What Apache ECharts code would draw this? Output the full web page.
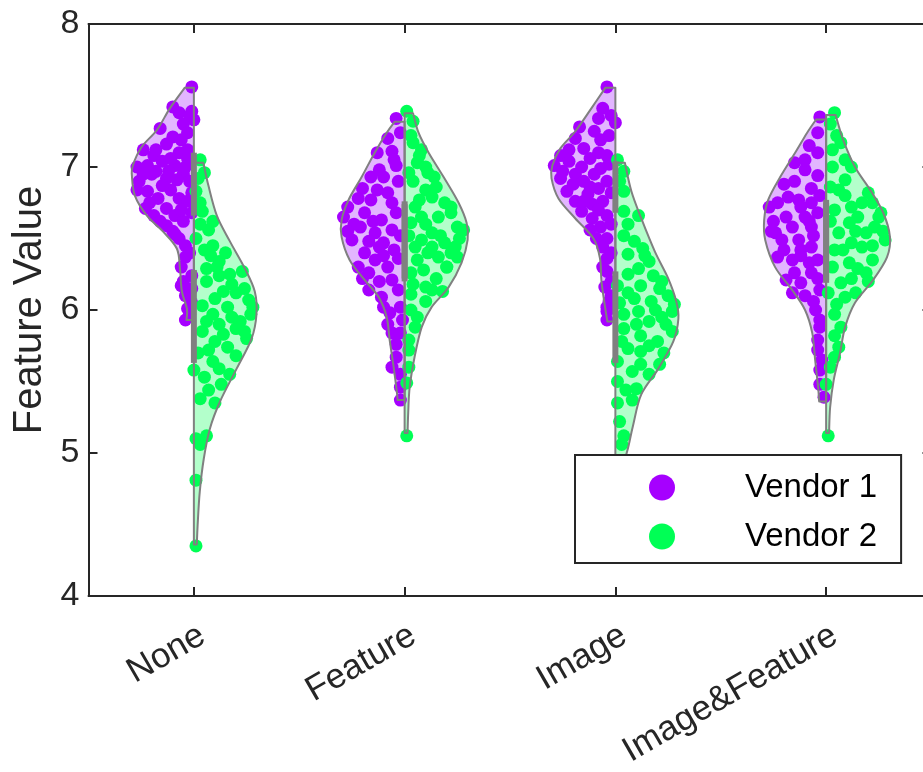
<!DOCTYPE html>
<html>
<head>
<meta charset="utf-8">
<script src="https://cdn.jsdelivr.net/npm/echarts@6/dist/echarts.min.js"></script>
<style>
  html, body { margin: 0; padding: 0; background: #fff; }
  #chart { width: 923px; height: 772px; }
</style>
</head>
<body>
<div id="chart"></div>
<script>
// categories on the x axis
const categories = ['None', 'Feature', 'Image', 'Image&Feature'];
const seriesNames = ['Vendor 1', 'Vendor 2'];

// violin edges: [value, half width in category units], top cap first, bottom cap last
const noneV1Edge = [[7.555,0.043],[7.41,0.114],[7.26,0.175],[7.14,0.248],[7.01,0.29],[6.94,0.294],[6.80,0.28],[6.66,0.223],[6.55,0.147],[6.43,0.081],[6.29,0.066],[6.13,0.057],[6.01,0.033],[5.93,0.035]];
const noneV2Edge = [[7.03,0.045],[6.87,0.069],[6.66,0.109],[6.48,0.171],[6.29,0.242],[6.13,0.289],[5.97,0.297],[5.80,0.274],[5.59,0.203],[5.36,0.124],[5.17,0.076],[4.96,0.047],[4.73,0.028],[4.50,0.018],[4.36,0.014]];
const featureV1Edge = [[7.317,0.047],[7.24,0.085],[7.10,0.142],[6.93,0.204],[6.77,0.266],[6.63,0.299],[6.51,0.299],[6.35,0.261],[6.21,0.19],[6.09,0.123],[5.95,0.085],[5.79,0.071],[5.60,0.052],[5.44,0.038],[5.37,0.033]];
const featureV2Edge = [[7.376,0.04],[7.24,0.066],[7.10,0.114],[6.93,0.185],[6.75,0.256],[6.61,0.294],[6.49,0.299],[6.33,0.27],[6.16,0.209],[6.02,0.128],[5.88,0.081],[5.67,0.047],[5.46,0.024],[5.28,0.017],[5.14,0.014]];
const imageV1Edge = [[7.555,0.047],[7.41,0.114],[7.25,0.19],[7.13,0.261],[7.01,0.299],[6.92,0.303],[6.78,0.27],[6.64,0.19],[6.50,0.104],[6.36,0.073],[6.20,0.066],[6.03,0.05],[5.92,0.038]];
const imageV2Edge = [[7.03,0.045],[6.83,0.076],[6.64,0.123],[6.41,0.187],[6.22,0.251],[6.06,0.289],[5.94,0.299],[5.78,0.275],[5.59,0.204],[5.41,0.123],[5.20,0.085],[5.06,0.064],[4.98,0.05]];
const bothV1Edge = [[7.333,0.047],[7.24,0.09],[7.10,0.147],[6.93,0.218],[6.77,0.275],[6.63,0.294],[6.49,0.289],[6.30,0.242],[6.14,0.161],[6.00,0.10],[5.84,0.066],[5.65,0.052],[5.46,0.038],[5.36,0.033]];
const bothV2Edge = [[7.364,0.045],[7.19,0.081],[7.00,0.137],[6.84,0.209],[6.68,0.271],[6.51,0.303],[6.37,0.289],[6.21,0.223],[6.05,0.137],[5.88,0.09],[5.70,0.066],[5.51,0.036],[5.32,0.019],[5.14,0.014]];

// interquartile boxes [q1, q3]
const v1Boxes = [[6.66,7.10],[6.20,6.76],[6.68,7.04],[6.19,6.77]];
const v2Boxes = [[5.63,6.28],[6.22,6.74],[5.63,6.27],[6.21,6.75]];

// jittered points: [offset from category centre, value]
const noneV1Pts = [[-0.01,7.56],[-0.1,7.42],[-0.07,7.38],[-0.01,7.39],[0.0,7.33],[-0.05,7.30],[-0.16,7.27],[-0.1,7.21],[-0.03,7.24],[-0.13,7.16],[-0.06,7.19],[-0.02,7.36],
  [-0.24,7.12],[-0.19,7.08],[-0.07,7.10],[-0.03,7.06],[-0.15,7.04],[-0.22,7.01],[-0.27,7.00],[-0.09,7.01],[-0.18,6.97],[-0.13,6.92],[-0.26,6.90],[-0.05,6.95],[-0.02,6.90],[-0.22,6.83],[-0.27,6.84],[-0.11,6.84],[-0.07,6.78],[-0.17,6.78],[-0.03,6.76],[-0.23,6.71],[-0.13,6.71],[-0.09,6.66],[-0.19,6.66],[-0.05,6.62],[-0.13,6.59],[-0.2,6.95],[-0.11,7.06],[-0.04,7.0],[-0.15,6.87],[-0.08,6.91],[-0.01,6.82],[-0.06,6.70],[-0.21,6.75],[-0.16,6.62],[-0.1,6.55],[-0.24,6.95],[-0.12,6.97],[-0.01,6.68],[-0.03,7.12],[-0.18,7.12],
  [-0.07,6.50],[-0.04,6.45],[-0.09,6.53],[-0.04,6.37],[-0.06,6.30],[-0.01,6.24],[-0.06,6.17],[-0.04,6.10],[-0.03,6.01],[-0.04,5.93],[-0.01,6.05],[-0.05,6.20],[-0.02,6.40],[-0.01,6.15],[-0.02,5.97]];
const noneV2Pts = [[0.03,7.05],[0.05,6.96],[0.01,6.83],[0.04,6.69],[0.09,6.62],[0.01,6.50],[0.05,6.42],[0.09,6.45],[0.12,6.34],[0.06,6.29],[0.15,6.40],[0.23,6.27],[0.12,6.24],[0.18,6.18],[0.14,6.13],[0.06,6.20],[0.04,6.03],[0.26,6.07],[0.09,5.97],[0.22,5.92],[0.27,5.97],[0.12,5.90],[0.14,5.83],[0.2,5.87],[0.25,5.80],[0.04,5.85],[0.07,5.72],[0.2,5.68],[0.09,5.64],[0.12,5.59],[0.17,5.55],[0.0,5.58],[0.05,5.53],[0.03,5.38],[0.1,5.35],[0.01,5.10],[0.06,5.12],[0.03,5.06],[0.01,4.81],[0.01,4.35],
  [0.02,6.92],[0.03,6.75],[0.07,6.56],[0.11,6.30],[0.2,6.12],[0.24,6.15],[0.1,6.08],[0.16,6.02],[0.28,6.02],[0.18,5.95],[0.06,5.92],[0.24,5.85],[0.1,5.78],[0.16,5.74],[0.02,5.70],[0.13,5.48],[0.07,5.44],[0.03,6.60],[0.08,6.38],[0.17,6.25]];
const featureV1Pts = [[-0.04,7.34],[-0.13,7.10],[-0.06,7.11],[-0.04,7.01],[-0.1,6.93],[-0.16,6.93],[-0.13,6.84],[-0.22,6.78],[-0.27,6.72],[-0.16,6.77],[-0.06,6.75],[-0.29,6.65],[-0.19,6.68],[-0.11,6.63],[-0.04,6.68],[-0.21,6.58],[-0.14,6.54],[-0.06,6.56],[-0.25,6.49],[-0.1,6.47],[-0.19,6.40],[-0.05,6.42],[-0.14,6.35],[-0.22,6.30],[-0.08,6.30],[-0.17,6.26],[-0.06,6.21],[-0.17,6.14],[-0.11,6.09],[-0.03,6.14],[-0.1,6.02],[-0.07,5.98],[-0.01,5.93],[-0.06,5.84],[-0.02,5.84],[-0.04,5.67],[-0.06,5.60],[-0.02,5.46],[-0.02,5.37],
  [-0.08,7.20],[-0.02,7.24],[-0.05,7.05],[-0.12,6.98],[-0.03,6.90],[-0.2,6.85],[-0.08,6.82],[-0.24,6.60],[-0.15,6.62],[-0.02,6.52],[-0.27,6.55],[-0.12,6.44],[-0.03,6.36],[-0.2,6.22],[-0.12,6.20],[-0.02,6.02],[-0.08,5.90],[-0.04,5.76],[-0.02,5.55],[-0.1,6.38],[-0.17,6.48]];
const featureV2Pts = [[0.01,7.39],[0.04,7.32],[0.04,7.17],[0.08,7.12],[0.06,7.03],[0.1,7.00],[0.14,6.93],[0.04,6.90],[0.1,6.84],[0.13,6.79],[0.07,6.77],[0.19,6.75],[0.22,6.68],[0.16,6.65],[0.08,6.65],[0.03,6.61],[0.25,6.58],[0.28,6.56],[0.13,6.54],[0.08,6.49],[0.19,6.47],[0.24,6.44],[0.05,6.44],[0.11,6.40],[0.25,6.37],[0.16,6.37],[0.06,6.35],[0.2,6.30],[0.03,6.26],[0.1,6.16],[0.13,6.14],[0.18,6.13],[0.03,6.11],[0.06,5.95],[0.02,5.79],[0.02,5.72],[0.01,5.49],[0.01,5.12],
  [0.03,7.22],[0.07,7.08],[0.11,6.96],[0.02,6.96],[0.15,6.86],[0.22,6.72],[0.05,6.72],[0.1,6.60],[0.26,6.50],[0.17,6.52],[0.02,6.52],[0.13,6.44],[0.22,6.40],[0.09,6.28],[0.15,6.22],[0.04,6.18],[0.1,6.06],[0.03,6.00],[0.05,5.88],[0.02,5.60],[0.2,6.30]];
const imageV1Pts = [[-0.04,7.56],[-0.06,7.41],[-0.02,7.36],[-0.08,7.34],[-0.17,7.28],[0.0,7.31],[-0.07,7.19],[-0.19,7.20],[-0.15,7.13],[-0.04,7.08],[-0.26,7.08],[-0.22,7.04],[-0.12,7.06],[-0.29,7.01],[-0.07,6.99],[-0.19,6.95],[-0.26,6.92],[-0.15,6.90],[-0.1,6.95],[-0.04,6.90],[-0.23,6.83],[-0.13,6.81],[-0.08,6.85],[-0.19,6.76],[-0.11,6.74],[-0.06,6.76],[-0.16,6.69],[-0.04,6.66],[-0.11,6.64],[-0.07,6.58],[-0.04,6.50],[-0.09,6.50],[-0.04,6.36],[-0.04,6.27],[-0.05,6.16],[-0.03,6.06],[-0.04,5.99],[-0.04,5.93],
  [-0.1,7.25],[-0.03,7.22],[-0.22,7.12],[-0.08,7.10],[-0.16,7.0],[-0.03,7.02],[-0.25,6.97],[-0.12,6.86],[-0.2,6.88],[-0.02,6.82],[-0.08,6.70],[-0.02,6.60],[-0.12,6.56],[-0.06,6.44],[-0.02,6.40],[-0.06,6.30],[-0.02,6.20],[-0.02,6.10],[-0.04,6.02],[-0.15,6.76]];
const imageV2Pts = [[0.01,7.05],[0.04,6.97],[0.04,6.83],[0.04,6.69],[0.11,6.66],[0.04,6.52],[0.09,6.48],[0.13,6.43],[0.06,6.39],[0.16,6.34],[0.11,6.29],[0.18,6.24],[0.01,6.17],[0.12,6.17],[0.21,6.15],[0.25,6.10],[0.09,6.08],[0.17,6.06],[0.27,5.99],[0.04,5.97],[0.11,5.99],[0.16,5.92],[0.22,5.95],[0.04,5.87],[0.12,5.82],[0.27,5.85],[0.2,5.78],[0.06,5.73],[0.12,5.71],[0.01,5.64],[0.21,5.62],[0.08,5.57],[0.16,5.55],[0.01,5.50],[0.01,5.35],[0.08,5.37],[0.04,5.12],[0.03,5.06],
  [0.02,6.90],[0.06,6.60],[0.14,6.38],[0.22,6.20],[0.06,6.25],[0.28,6.04],[0.19,6.00],[0.24,5.90],[0.1,5.90],[0.16,5.75],[0.03,5.78],[0.23,5.70],[0.12,5.62],[0.05,5.44],[0.1,5.45],[0.02,5.22],[0.06,6.12],[0.02,6.05]];
const bothV1Pts = [[-0.03,7.35],[-0.08,7.15],[-0.04,7.10],[-0.15,7.03],[-0.1,6.98],[-0.04,6.94],[-0.07,6.85],[-0.18,6.79],[-0.23,6.75],[-0.27,6.72],[-0.13,6.77],[-0.07,6.75],[-0.19,6.65],[-0.1,6.65],[-0.04,6.68],[-0.16,6.58],[-0.24,6.54],[-0.07,6.58],[-0.21,6.49],[-0.13,6.49],[-0.12,6.42],[-0.07,6.44],[-0.23,6.37],[-0.16,6.35],[-0.08,6.33],[-0.04,6.35],[-0.19,6.21],[-0.15,6.26],[-0.12,6.19],[-0.07,6.26],[-0.03,6.14],[-0.05,6.00],[-0.03,5.93],[-0.04,5.79],[-0.02,5.65],[-0.03,5.58],[-0.01,5.39],
  [-0.04,7.24],[-0.1,7.05],[-0.2,6.88],[-0.15,6.90],[-0.03,6.80],[-0.25,6.62],[-0.06,6.52],[-0.2,6.42],[-0.12,6.38],[-0.26,6.55],[-0.04,6.22],[-0.1,6.10],[-0.06,6.06],[-0.03,5.88],[-0.04,5.72],[-0.03,5.48],[-0.16,6.12],[-0.08,6.62],[-0.12,6.72]];
const bothV2Pts = [[0.04,7.38],[0.02,7.30],[0.07,7.17],[0.03,7.12],[0.09,7.05],[0.03,7.00],[0.09,6.91],[0.06,6.84],[0.17,6.75],[0.12,6.72],[0.22,6.75],[0.25,6.65],[0.15,6.65],[0.04,6.70],[0.11,6.61],[0.23,6.58],[0.06,6.54],[0.19,6.54],[0.28,6.49],[0.12,6.47],[0.17,6.44],[0.04,6.42],[0.22,6.35],[0.11,6.33],[0.15,6.29],[0.03,6.30],[0.19,6.26],[0.07,6.19],[0.01,6.12],[0.09,6.09],[0.04,5.97],[0.06,5.74],[0.04,5.67],[0.0,5.48],[0.01,5.12],
  [0.05,7.22],[0.12,7.0],[0.02,6.86],[0.2,6.82],[0.09,6.80],[0.26,6.68],[0.02,6.62],[0.14,6.55],[0.22,6.45],[0.08,6.42],[0.27,6.55],[0.12,6.22],[0.2,6.20],[0.05,6.04],[0.14,6.12],[0.07,5.88],[0.04,5.82],[0.02,5.60]];

const v1Edges = [noneV1Edge, featureV1Edge, imageV1Edge, bothV1Edge];
const v2Edges = [noneV2Edge, featureV2Edge, imageV2Edge, bothV2Edge];
const v1Pts = [noneV1Pts, featureV1Pts, imageV1Pts, bothV1Pts];
const v2Pts = [noneV2Pts, featureV2Pts, imageV2Pts, bothV2Pts];

const purple = '#A600FF', purpleFill = '#E2B5FF';
const green = '#00FF55', greenFill = '#B3FFCB';
const edgeGray = '#808080', axisColor = '#262626';
const font = 'Liberation Sans, Arial, Helvetica, sans-serif';

// smooth curve through pixel points (catmull-rom -> bezier)
function curveThrough(p) {
  let d = '';
  for (let i = 0; i < p.length - 1; i++) {
    const p0 = p[i - 1] || p[i], p1 = p[i], p2 = p[i + 1], p3 = p[i + 2] || p[i + 1];
    const c1 = [p1[0] + (p2[0] - p0[0]) / 6, p1[1] + (p2[1] - p0[1]) / 6];
    const c2 = [p2[0] - (p3[0] - p1[0]) / 6, p2[1] - (p3[1] - p1[1]) / 6];
    d += ' C' + c1[0] + ',' + c1[1] + ' ' + c2[0] + ',' + c2[1] + ' ' + p2[0] + ',' + p2[1];
  }
  return d;
}

function violinPath(api, idx, edge, side) {
  const cx = idx + 1;
  const pts = edge.map(e => api.coord([cx + side * e[1], e[0]]));
  const top = api.coord([cx, edge[0][0]]);
  const bot = api.coord([cx, edge[edge.length - 1][0]]);
  return 'M' + top[0] + ',' + top[1] + ' L' + pts[0][0] + ',' + pts[0][1] +
    curveThrough(pts) + ' L' + bot[0] + ',' + bot[1] + ' Z';
}

function violinSeries(edges, side, fill, z) {
  return {
    type: 'custom',
    xAxisIndex: 2,
    z: z,
    silent: true,
    data: categories.map((c, i) => [i]),
    renderItem: (params, api) => {
      const i = api.value(0);
      return {
        type: 'path',
        shape: { pathData: violinPath(api, i, edges[i], side) },
        style: fill
          ? { fill: fill, stroke: null }
          : { fill: null, stroke: edgeGray, lineWidth: 2, lineJoin: 'round' }
      };
    }
  };
}

function boxSeries(boxes, z) {
  return {
    type: 'custom',
    xAxisIndex: 2,
    z: z,
    silent: true,
    data: boxes.map((b, i) => [i, b[0], b[1]]),
    renderItem: (params, api) => {
      const cx = api.value(0) + 1;
      const hi = api.coord([cx, api.value(2)]);
      const lo = api.coord([cx, api.value(1)]);
      return {
        type: 'rect',
        shape: { x: hi[0] - 3, y: hi[1], width: 6, height: lo[1] - hi[1] },
        style: { fill: edgeGray }
      };
    }
  };
}

function pointSeries(name, groups, color) {
  const data = [];
  groups.forEach((g, i) => g.forEach(p => data.push([i + 1 + p[0], p[1]])));
  return {
    name: name,
    type: 'scatter',
    xAxisIndex: 2,
    z: 2,
    symbolSize: 13,
    itemStyle: { color: color, opacity: 1 },
    data: data
  };
}

const chart = echarts.init(document.getElementById('chart'));
const axisLine = { show: true, onZero: false, lineStyle: { color: axisColor, width: 2 } };
const axisTick = { show: true, inside: true, length: 9, lineStyle: { color: axisColor, width: 2 } };

chart.setOption({
  animation: false,
  backgroundColor: '#fff',
  // the right frame edge sits just past the canvas, as in the reference
  grid: { left: 88.5, top: 24, width: 843, height: 572, outerBoundsMode: 'none', containLabel: false },
  legend: {
    data: seriesNames,
    orient: 'vertical',
    left: 575,
    top: 455,
    icon: 'circle',
    itemWidth: 26,
    itemHeight: 26,
    itemGap: 16,
    padding: [16, 24, 10, 74],
    borderColor: axisColor,
    borderWidth: 2,
    backgroundColor: '#fff',
    selectedMode: false,
    z: 10,
    textStyle: { fontSize: 33, color: '#000', fontFamily: font, lineHeight: 33, padding: [0, 0, 0, 65] }
  },
  xAxis: [
    {
      type: 'category', data: categories, position: 'bottom', boundaryGap: true,
      axisLine: axisLine,
      axisTick: Object.assign({ alignWithLabel: true }, axisTick),
      axisLabel: { rotate: 30, fontSize: 35, color: axisColor, margin: 22, verticalAlign: 'top', fontFamily: font },
      splitLine: { show: false }
    },
    {
      type: 'category', data: categories, position: 'top', boundaryGap: true,
      axisLine: axisLine,
      axisTick: Object.assign({ alignWithLabel: true }, axisTick),
      axisLabel: { show: false },
      splitLine: { show: false }
    },
    { type: 'value', min: 0.5, max: 4.5, show: false }
  ],
  yAxis: [
    {
      type: 'value', min: 4, max: 8, interval: 1, position: 'left',
      axisLine: axisLine, axisTick: axisTick,
      axisLabel: { fontSize: 34, color: axisColor, margin: 9, fontFamily: font },
      splitLine: { show: false },
      name: 'Feature Value', nameLocation: 'middle', nameGap: 35,
      nameTextStyle: { fontSize: 40, color: axisColor, fontFamily: font }
    },
    {
      type: 'value', min: 4, max: 8, interval: 1, position: 'right',
      axisLine: axisLine, axisTick: axisTick,
      axisLabel: { show: false }, splitLine: { show: false }
    }
  ],
  series: [
    violinSeries(v1Edges, -1, purpleFill, 1),
    violinSeries(v2Edges, 1, greenFill, 1),
    pointSeries(seriesNames[0], v1Pts, purple),
    pointSeries(seriesNames[1], v2Pts, green),
    violinSeries(v1Edges, -1, null, 3),
    violinSeries(v2Edges, 1, null, 3),
    boxSeries(v1Boxes, 4),
    boxSeries(v2Boxes, 4)
  ]
});
</script>
</body>
</html>
